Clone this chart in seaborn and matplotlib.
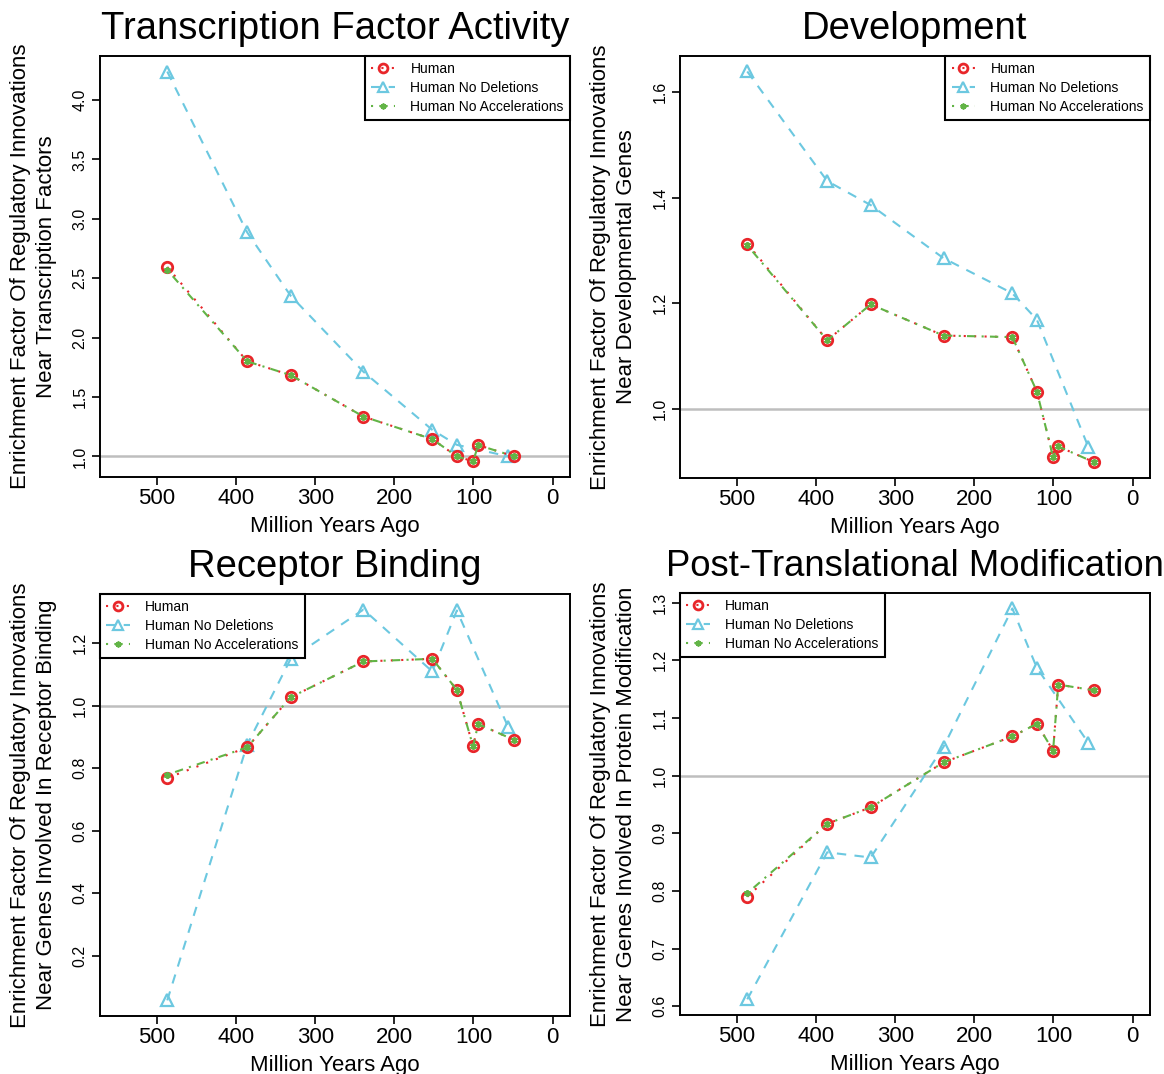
import matplotlib

matplotlib.use("Agg")
import matplotlib.pyplot as plt
import numpy as np
import pandas as pd
import seaborn as sns
from matplotlib.ticker import MultipleLocator, FormatStrFormatter

# time points (million years ago)
times_human = [487, 386, 331, 239, 152, 121, 100.5, 94, 48.5]
times_nodel = [487, 386, 331, 239, 152, 121, 56]

# Transcription Factor Activity
tf_human = [2.595, 1.80, 1.684, 1.335, 1.145, 1.0, 0.958, 1.095, 1.0]
tf_nodel = [4.24, 2.886, 2.352, 1.712, 1.223, 1.097, 1.0]
tf_noacc = [2.57, 1.80, 1.684, 1.335, 1.145, 1.0, 0.958, 1.095, 1.0]

# Development
dev_human = [1.313, 1.130, 1.198, 1.139, 1.136, 1.033, 0.909, 0.929, 0.899]
dev_nodel = [1.639, 1.4315, 1.386, 1.2855, 1.219, 1.169, 0.928]
dev_noacc = [1.310, 1.130, 1.198, 1.139, 1.136, 1.033, 0.909, 0.929, 0.899]

# Receptor Binding
rb_human = [0.7685, 0.8665, 1.0267, 1.141, 1.1495, 1.050, 0.870, 0.941, 0.890]
rb_nodel = [0.0576, 0.875, 1.1495, 1.307, 1.109, 1.304, 0.9305]
rb_noacc = [0.779, 0.8665, 1.0267, 1.141, 1.1495, 1.050, 0.870, 0.941, 0.890]

# Post-Translational Modification
ptm_human = [0.790, 0.9165, 0.945, 1.023, 1.068, 1.090, 1.0435, 1.158, 1.148]
ptm_nodel = [0.612, 0.867, 0.858, 1.050, 1.290, 1.187, 1.057]
ptm_noacc = [0.796, 0.9165, 0.945, 1.023, 1.068, 1.090, 1.0435, 1.158, 1.148]

x_ticks = [500, 400, 300, 200, 100, 0]

RED = "#E8262A"
CYAN = "#6CC8E0"
GREEN = "#62B446"

sns.set_theme(style="ticks")
plt.rcParams["font.family"] = ["Liberation Sans", "DejaVu Sans"]
plt.rcParams["text.color"] = "black"
plt.rcParams["axes.labelcolor"] = "black"

fig = plt.figure(figsize=(11.64, 10.74), dpi=100)

panels = [
    dict(title="Transcription Factor Activity", tsize=27.5,
         ylabel="Enrichment Factor Of Regulatory Innovations\nNear Transcription Factors",
         human=tf_human, nodel=tf_nodel, noacc=tf_noacc, step=0.5,
         pos=[0.0859, 0.5559, 0.4038, 0.392], legend="upper right"),
    dict(title="Development", tsize=27.5,
         ylabel="Enrichment Factor Of Regulatory Innovations\nNear Developmental Genes",
         human=dev_human, nodel=dev_nodel, noacc=dev_noacc, step=0.2,
         pos=[0.5842, 0.5550, 0.4038, 0.393], legend="upper right"),
    dict(title="Receptor Binding", tsize=27.5,
         ylabel="Enrichment Factor Of Regulatory Innovations\nNear Genes Involved In Receptor Binding",
         human=rb_human, nodel=rb_nodel, noacc=rb_noacc, step=0.2,
         pos=[0.0859, 0.0540, 0.4038, 0.393], legend="upper left"),
    dict(title="Post-Translational Modification", tsize=26.3,
         ylabel="Enrichment Factor Of Regulatory Innovations\nNear Genes Involved In Protein Modification",
         human=ptm_human, nodel=ptm_nodel, noacc=ptm_noacc, step=0.1,
         pos=[0.5842, 0.0550, 0.4038, 0.393], legend="upper left"),
]

for p in panels:
    ax = fig.add_axes(p["pos"])
    ax.axhline(1.0, color="#BEBEBE", lw=1.8, zorder=1)

    df_h = pd.DataFrame({"mya": times_human, "val": p["human"]})
    df_d = pd.DataFrame({"mya": times_nodel, "val": p["nodel"]})
    df_a = pd.DataFrame({"mya": times_human, "val": p["noacc"]})

    sns.lineplot(data=df_h, x="mya", y="val", ax=ax, sort=False, color=RED,
                 lw=1.5, linestyle=(0, (1, 4)), marker="o", markersize=7.5,
                 markerfacecolor="none", markeredgecolor=RED, markeredgewidth=2,
                 label="Human", zorder=3)
    sns.lineplot(data=df_d, x="mya", y="val", ax=ax, sort=False, color=CYAN,
                 lw=1.5, linestyle=(0, (4.5, 4)), marker="^", markersize=8.5,
                 markerfacecolor="none", markeredgecolor=CYAN, markeredgewidth=1.6,
                 label="Human No Deletions", zorder=2)
    sns.lineplot(data=df_a, x="mya", y="val", ax=ax, sort=False, color=GREEN,
                 lw=1.5, linestyle=(0, (1, 3, 4, 3)), marker=(6, 2, 0), markersize=5,
                 markeredgecolor=GREEN, markeredgewidth=1.3,
                 label="Human No Accelerations", zorder=4)

    handles, labels = ax.get_legend_handles_labels()
    leg = ax.legend(handles, labels, loc=p["legend"], borderaxespad=0,
                    fontsize=10, frameon=True, fancybox=False, edgecolor="black",
                    framealpha=1, handlelength=1.7, handletextpad=1.1,
                    labelspacing=0.36, borderpad=0.45, markerscale=0.85)
    leg.get_frame().set_linewidth(1.5)

    ax.set_xlim(572, -22)
    ax.margins(y=0.04)
    ax.set_xticks(x_ticks)
    ax.yaxis.set_major_locator(MultipleLocator(p["step"]))
    ax.yaxis.set_major_formatter(FormatStrFormatter("%.1f"))

    ax.tick_params(axis="x", labelsize=16, length=6, width=1.2, pad=2,
                   colors="black")
    ax.tick_params(axis="y", labelsize=11.5, length=6, width=1.2, pad=3,
                   labelrotation=90, colors="black")
    for t in ax.get_yticklabels():
        t.set_va("center")

    for s in ax.spines.values():
        s.set_visible(True)
        s.set_color("black")
        s.set_linewidth(1.4)

    ax.set_title(p["title"], fontsize=p["tsize"], pad=12, color="black")
    ax.set_xlabel("Million Years Ago", fontsize=16, labelpad=5)
    ax.set_ylabel(p["ylabel"], fontsize=16, va="center", linespacing=1.3)
    ax.yaxis.set_label_coords(-0.142, 0.5)

fig.savefig("out.png", dpi=100)
